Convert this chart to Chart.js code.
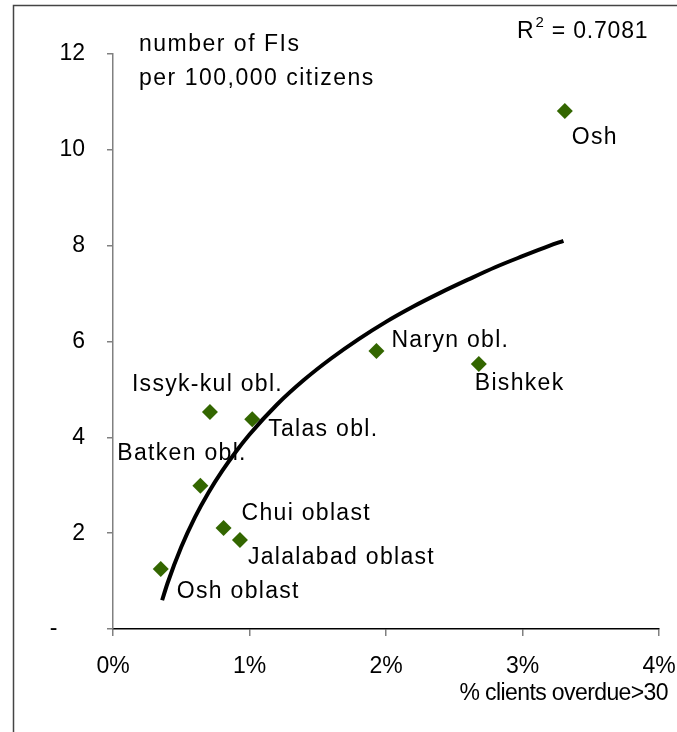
<!DOCTYPE html>
<html>
<head>
<meta charset="utf-8">
<title>FI density vs. overdue clients</title>
<script src="https://cdn.jsdelivr.net/npm/chart.js@4/dist/chart.umd.min.js"></script>
<style>
  html, body { margin: 0; padding: 0; background: #ffffff; }
  #wrap { position: relative; width: 677px; height: 732px; }
</style>
</head>
<body>
<div id="wrap"><canvas id="chart" width="677" height="732"></canvas></div>
<script>
// Regions and their values
const regions = ['Osh', 'Naryn obl.', 'Bishkek', 'Issyk-kul obl.', 'Talas obl.',
                 'Batken obl.', 'Chui oblast', 'Jalalabad oblast', 'Osh oblast'];
// share of clients more than 30 days overdue, in percent
const overduePct = [3.31, 1.93, 2.68, 0.71, 1.02, 0.64, 0.81, 0.93, 0.35];
// number of financial institutions per 100,000 citizens
const fiPer100k = [10.81, 5.80, 5.53, 4.53, 4.38, 2.99, 2.11, 1.86, 1.25];

// logarithmic trend line, sampled along its length
const trendX = [0.36, 0.4, 0.5, 0.6, 0.7, 0.8, 0.9, 1.0, 1.2, 1.4, 1.6, 1.8,
                2.0, 2.2, 2.4, 2.6, 2.8, 3.0, 3.2, 3.3];
const trendY = [0.60, 0.96, 1.71, 2.33, 2.85, 3.30, 3.70, 4.06, 4.68, 5.20, 5.65, 6.05,
                6.41, 6.73, 7.02, 7.29, 7.55, 7.78, 8.00, 8.10];
const rSquared = '0.7081';

// axis ticks
const xTicks = [0, 1, 2, 3, 4];
const yTicks = [0, 2, 4, 6, 8, 10, 12];

// label placement relative to each marker (dx, dy in pixels)
const labelOffsets = [[7, 27], [15, -10], [-4, 20], [-78, -27], [16, 11],
                      [-83, -32], [18, -14], [8, 18], [16, 23]];

const FONT = "'Liberation Sans', Arial, sans-serif";
const TICK_SIZE = 23;
const LABEL_SIZE = 23;

const overlay = {
  id: 'overlay',
  afterDatasetsDraw(chart) {
    const ctx = chart.ctx;
    ctx.save();
    // outer frame
    ctx.strokeStyle = '#444444';
    ctx.lineWidth = 1.5;
    ctx.beginPath();
    ctx.moveTo(13.5, 732);
    ctx.lineTo(13.5, 5.5);
    ctx.lineTo(677, 5.5);
    ctx.stroke();

    ctx.fillStyle = '#000000';
    ctx.font = LABEL_SIZE + 'px ' + FONT;
    ctx.letterSpacing = '1.3px';
    ctx.textBaseline = 'middle';
    ctx.textAlign = 'left';

    // point labels
    const meta = chart.getDatasetMeta(1);
    meta.data.forEach((pt, i) => {
      const off = labelOffsets[i];
      ctx.fillText(regions[i], pt.x + off[0], pt.y + off[1]);
    });

    // y-axis caption
    ctx.letterSpacing = '1.5px';
    ctx.fillText('number of FIs', 139, 45);
    ctx.fillText('per 100,000 citizens', 139, 79);

    // R squared
    ctx.letterSpacing = '0.8px';
    let x = 517;
    ctx.fillText('R', x, 32);
    x += ctx.measureText('R').width;
    ctx.font = '15px ' + FONT;
    ctx.fillText('2', x + 1, 23);
    x += ctx.measureText('2').width + 1;
    ctx.font = LABEL_SIZE + 'px ' + FONT;
    ctx.fillText(' = ' + rSquared, x, 32);

    // x-axis caption
    ctx.letterSpacing = '-0.6px';
    ctx.font = '23px ' + FONT;
    ctx.textAlign = 'right';
    ctx.fillText('% clients overdue>30', 668, 694);
    ctx.restore();
  }
};

new Chart(document.getElementById('chart'), {
  type: 'scatter',
  data: {
    datasets: [
      {
        type: 'line',
        label: 'trend',
        data: trendX.map((x, i) => ({ x: x, y: trendY[i] })),
        borderColor: '#000000',
        borderWidth: 4,
        pointRadius: 0,
        cubicInterpolationMode: 'monotone',
        fill: false,
        order: 0
      },
      {
        label: 'regions',
        data: overduePct.map((x, i) => ({ x: x, y: fiPer100k[i] })),
        pointStyle: 'rectRot',
        pointRadius: 8,
        pointHoverRadius: 8,
        backgroundColor: '#336600',
        borderWidth: 0,
        order: 1
      }
    ]
  },
  options: {
    responsive: false,
    animation: false,
    devicePixelRatio: 1,
    layout: { padding: { top: 54, right: 18, left: 0, bottom: 0 } },
    plugins: { legend: { display: false }, tooltip: { enabled: false } },
    scales: {
      x: {
        type: 'linear',
        min: 0, max: 4,
        afterFit(s) { s.height = 103; s.paddingLeft = 0; s.paddingRight = 0; },
        afterBuildTicks(s) { s.ticks = xTicks.map(v => ({ value: v })); },
        border: { color: '#000000', width: 1.5 },
        grid: { drawOnChartArea: false, drawTicks: true, tickLength: 7, color: '#808080', lineWidth: 1.5 },
        ticks: {
          color: '#000000',
          padding: 17,
          maxRotation: 0,
          font: { family: FONT, size: TICK_SIZE },
          callback: v => v + '%'
        }
      },
      y: {
        type: 'linear',
        min: 0, max: 12,
        afterFit(s) { s.width = 113; s.paddingTop = 0; s.paddingBottom = 0; },
        afterBuildTicks(s) { s.ticks = yTicks.map(v => ({ value: v })); },
        border: { color: '#808080', width: 1.5 },
        grid: { drawOnChartArea: false, drawTicks: true, tickLength: 6, color: '#808080', lineWidth: 1.5 },
        ticks: {
          color: '#000000',
          padding: 22,
          font: { family: FONT, size: TICK_SIZE },
          callback: v => (v === 0 ? '-\u2003\u2009' : String(v))
        }
      }
    }
  },
  plugins: [overlay]
});
</script>
</body>
</html>
